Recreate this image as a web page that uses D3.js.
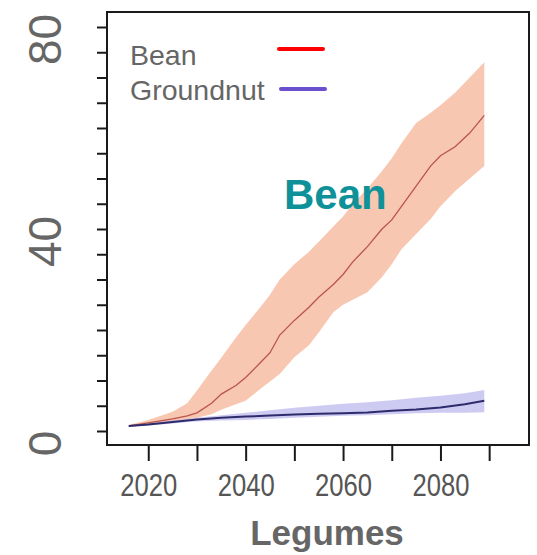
<!DOCTYPE html>
<html><head><meta charset="utf-8">
<script src="https://cdn.jsdelivr.net/npm/d3@7/dist/d3.min.js"></script>
<style>body{margin:0;background:#fff}svg{display:block}</style>
</head><body><svg id="c" width="537" height="555"></svg>
<script>
// ---- data ----
const beanYears  = [2016,2020,2025,2028,2030,2033,2035,2038,2040,2043,2045,2047,2050,2053,2055,2058,2060,2062,2065,2068,2070,2072,2075,2078,2080,2083,2086,2089];
const beanMean   = [1.0,1.6,2.4,3.0,3.6,5.5,7.3,9.0,10.6,13.5,15.5,19.0,21.9,24.5,26.5,29.0,31.0,33.5,36.5,40.0,41.8,44.5,48.5,52.5,54.5,56.3,59.0,62.5];
const beanUpper  = [1.2,2.2,3.8,5.5,8.0,12.0,14.5,18.5,21.0,24.5,27.0,30.0,33.0,35.5,37.5,40.5,42.5,45.0,48.0,51.5,54.0,57.0,61.0,63.0,64.5,67.0,70.0,73.0];
const beanLower  = [0.8,1.2,1.8,2.3,2.6,3.3,4.2,5.3,6.0,8.3,9.8,11.3,14.6,17.0,19.5,23.5,25.0,26.0,27.5,30.5,33.0,36.0,39.0,42.0,44.5,47.5,50.0,52.5];
const gnutYears  = [2016,2020,2025,2028,2030,2035,2040,2045,2050,2055,2060,2065,2070,2075,2080,2085,2089];
const gnutMean   = [1.0,1.3,1.8,2.1,2.3,2.6,2.85,3.05,3.25,3.4,3.5,3.65,4.0,4.25,4.65,5.3,6.0];
const gnutUpper  = [1.1,1.5,2.1,2.4,2.6,3.1,3.6,4.1,4.6,5.0,5.4,5.7,6.1,6.6,7.0,7.5,8.1];
const gnutLower  = [0.9,1.1,1.5,1.8,1.9,2.1,2.2,2.4,2.6,2.8,3.0,3.1,3.3,3.5,3.6,3.6,3.7];
const xTicks = [2020,2030,2040,2050,2060,2070,2080,2090];
const xTickLabels = ["2020","","2040","","2060","","2080",""];
const yTicks = [0,5,10,15,20,25,30,35,40,45,50,55,60,65,70,75,80];
const yTickLabels = ["0","40","80"];
const legendNames = ["Bean","Groundnut"];
const xTitle = "Legumes";
const panelLabel = "Bean";

// ---- layout ----
const svg = d3.select("#c");
const L=107,R=529,T=12,B=445;
const x = d3.scaleLinear().domain([2011.53,2098.18]).range([L,R]);
const y = d3.scaleLinear().domain([0,80]).range([431,27]);

const zip = (ys,a)=>ys.map((yr,i)=>({yr,v:a[i]}));
const bandData = (ys,lo,hi)=>ys.map((yr,i)=>({yr,lo:lo[i],hi:hi[i]}));
const area = d3.area().x(d=>x(d.yr)).y0(d=>y(d.lo)).y1(d=>y(d.hi)).curve(d3.curveLinear);
const line = d3.line().x(d=>x(d.yr)).y(d=>y(d.v)).curve(d3.curveLinear);

const g = svg.append("g");
g.append("path").datum(bandData(beanYears,beanLower,beanUpper)).attr("d",area)
  .attr("fill","#f7bda3").attr("fill-opacity",0.85);
g.append("path").datum(bandData(gnutYears,gnutLower,gnutUpper)).attr("d",area)
  .attr("fill","#bdbaee").attr("fill-opacity",0.75);
g.append("path").datum(zip(beanYears,beanMean)).attr("d",line)
  .attr("fill","none").attr("stroke","#b9544e").attr("stroke-width",1.3);
g.append("path").datum(zip(gnutYears,gnutMean)).attr("d",line)
  .attr("fill","none").attr("stroke","#2d2b6b").attr("stroke-width",2);

// frame
svg.append("rect").attr("x",L).attr("y",T).attr("width",R-L).attr("height",B-T)
  .attr("fill","none").attr("stroke","#1a1a1a").attr("stroke-width",2);

// y axis ticks
const ya = svg.append("g").attr("transform",`translate(${L},0)`)
  .call(d3.axisLeft(y).tickValues(yTicks).tickSize(10).tickFormat(""));
ya.select(".domain").remove();
ya.selectAll("line").attr("stroke","#1a1a1a").attr("stroke-width",2);

// y labels (rotated)
const yl = svg.append("g").attr("transform",`translate(${L},0)`)
  .call(d3.axisLeft(y).tickValues(yTickLabels.map(Number)).tickSize(0).tickFormat(d=>String(d)));
yl.select(".domain").remove();
yl.selectAll("text")
  .attr("font-family","Liberation Sans, Arial, sans-serif").attr("font-size",46)
  .attr("fill","#666").attr("x",null).attr("dy",null)
  .attr("text-anchor","middle").attr("dominant-baseline","central")
  .attr("transform","translate(-62,12) rotate(-90)");

// x axis
const xa = svg.append("g").attr("transform",`translate(0,${B})`)
  .call(d3.axisBottom(x).tickValues(xTicks).tickSize(16).tickPadding(13)
    .tickFormat((d,i)=>xTickLabels[i]));
xa.select(".domain").remove();
xa.selectAll("line").attr("stroke","#1a1a1a").attr("stroke-width",2);
xa.selectAll("text").attr("font-family","Liberation Sans, Arial, sans-serif")
  .attr("font-size",31).attr("fill","#555").attr("dy","0.71em")
  .each(function(){ if(this.textContent) d3.select(this).attr("textLength",57).attr("lengthAdjust","spacingAndGlyphs"); });

// x title
svg.append("text").attr("x",327).attr("y",545).attr("text-anchor","middle")
  .attr("font-family","Liberation Sans, Arial, sans-serif").attr("font-weight","bold")
  .attr("font-size",35).attr("fill","#666").text(xTitle);

// legend
const legColors = ["#ff0000","#6a4fcf"];
const lg = svg.append("g");
legendNames.forEach((n,i)=>{
  lg.append("text").attr("x",130).attr("y",65+i*35)
    .attr("font-family","Liberation Sans, Arial, sans-serif").attr("font-size",28.5)
    .attr("fill","#666").text(n);
  lg.append("line").attr("x1",279+i*2).attr("x2",323+i*2).attr("y1",49+i*40).attr("y2",49+i*40)
    .attr("stroke",legColors[i]).attr("stroke-width",4).attr("stroke-linecap","round");
});

// panel label
svg.append("text").attr("x",284).attr("y",209)
  .attr("font-family","Liberation Sans, Arial, sans-serif").attr("font-weight","bold")
  .attr("font-size",42).attr("fill","#0e9199").text(panelLabel);
</script></body></html>
